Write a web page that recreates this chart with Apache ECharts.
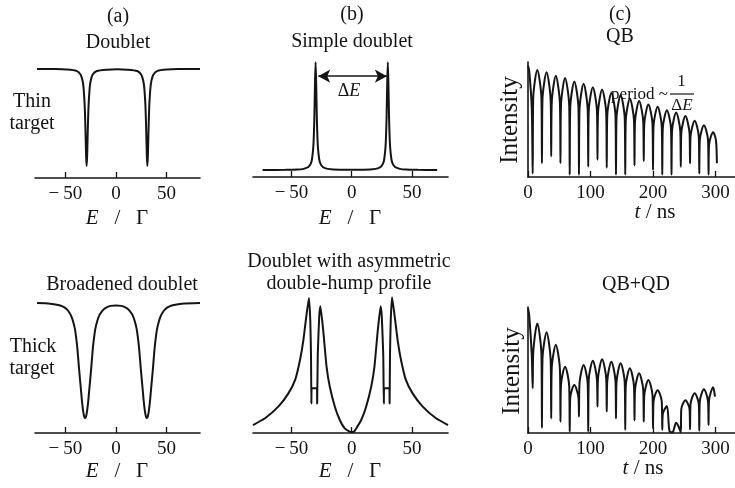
<!DOCTYPE html>
<html>
<head>
<meta charset="utf-8">
<script src="https://cdn.jsdelivr.net/npm/echarts@6.0.0/dist/echarts.min.js"></script>
<style>
  html, body { margin: 0; padding: 0; background: #fff; }
  #chart { width: 735px; height: 488px; }
</style>
</head>
<body>
<div id="chart"></div>
<script>
// (a) thin target: doublet absorption dips
const thinE = [-78, -60, -49, -39, -35, -33, -32, -31, -30.5, -30, -29.5, -29, -28.5, -28, -27.5, -27, -26, -25, -23, -19,
  -9, 1, 11, 21, 25, 27, 28, 29, 29.5, 30, 30.5, 31, 31.5, 32, 32.5, 33, 34, 35, 37, 41, 51, 61, 83];
const thinI = [77.9, 77.8, 77.5, 76.5, 73.9, 69.4, 64.1, 53, 43.3, 29.9, 15.5, 8.6, 15.5, 29.9, 43.3, 53, 64.1, 69.4, 73.9, 76.4,
  77.4, 77.6, 77.4, 76.4, 73.8, 69.3, 64, 53, 43.3, 29.9, 15.5, 8.6, 15.5, 29.9, 43.3, 53, 64.1, 69.4, 73.9, 76.5, 77.5, 77.8, 77.9];

// (a) thick target: broadened doublet
const thickE = [-78, -65, -55, -50.5, -47.5, -44.5, -42.5, -40.5, -38.5, -37.5, -36.5, -35.5, -34.5, -33.5, -32.5, -31.5, -30.5,
  -29.5, -28.5, -27.5, -26.5, -25.5, -24.5, -23.5, -22.5, -20.5, -18.5, -16.5, -13.5, -10.5, -5.5, 0, 5.5, 10.5, 13.5, 16.5,
  18.5, 20.5, 22.5, 23.5, 24.5, 25.5, 26.5, 27.5, 28.5, 29.5, 30.5, 31.5, 32.5, 33.5, 34.5, 35.5, 36.5, 37.5, 38.5, 40.5,
  42.5, 44.5, 47.5, 50.5, 55, 65, 83];
const thickI = [92.8, 92.4, 91.1, 89.5, 87.5, 84, 80, 74, 63, 55, 46, 38, 30, 22, 16, 12, 10.7,
  12, 16, 22, 30, 38, 46, 55, 63, 74, 80, 84, 87.3, 89.2, 90.8, 91, 90.8, 89.2, 87.3, 84,
  80, 74, 63, 55, 46, 38, 30, 22, 16, 12, 10.7, 12, 16, 22, 30, 38, 46, 55, 63, 74,
  80, 84, 87.5, 89.5, 91.1, 92.4, 92.9];

// (b) simple doublet emission
const simpleE = [-74, -55, -45, -40, -36, -34, -33, -32, -31.5, -31, -30.5, -30, -29.5, -29, -28.5, -28, -27, -26, -24, -20,
  -10, 0, 10, 20, 24, 26, 27, 28, 28.5, 29, 29.5, 30, 30.5, 31, 31.5, 32, 33, 34, 36, 40, 45, 55, 71];
const simpleI = [5, 5.1, 5.3, 5.8, 7.1, 9.5, 12.7, 20.4, 28.7, 43.5, 66.6, 82, 66.6, 43.5, 28.7, 20.4, 12.7, 9.5, 7.1, 5.8,
  5.2, 5.2, 5.2, 5.8, 7.1, 9.5, 12.7, 20.4, 28.7, 43.5, 66.6, 82, 66.6, 43.5, 28.7, 20.4, 12.7, 9.5, 7.1, 5.8, 5.3, 5.1, 5];

// (b) doublet with asymmetric double-hump profile
const humpE = [-82, -72, -61, -52.6, -47, -43, -40.2, -37.4, -35.5, -34.4, -33.8, -33.5, -33.3, -28.9, -28.7, -28.2, -27, -26,
  -23.7, -20.9, -18.2, -14, -9.9, -5.8, -1.7, 0, 2, 3.8, 7.9, 12, 16.2, 18.9, 21.7, 24, 25, 26.2, 26.7, 26.9, 31.3, 31.5,
  31.8, 32.4, 33.5, 35.4, 38.2, 41, 45, 50.6, 59, 70, 80];
const humpI = [5.7, 10.5, 18.8, 28.3, 37.9, 52, 66, 85.5, 96.5, 80, 55, 21, 32, 32, 21, 56, 83, 90.5,
  73.6, 47.4, 33, 18.8, 9.3, 3.3, 1, 0.7, 1, 3.3, 9.3, 18.8, 33, 47.4, 73.6, 90.5, 83, 56, 21, 32, 32, 21,
  55, 80, 97, 85.5, 66, 52, 37.9, 28.3, 18.8, 10.5, 5.7];

// (c) QB time spectrum
const qbT = [0, 2, 6, 7.5, 8.3, 14.9, 21.5, 22.3, 23.1, 29.7, 36.3, 37.1, 37.9, 44.5, 51.1, 51.9, 52.7, 59.3, 65.9,
  66.7, 67.5, 74.1, 80.7, 81.5, 82.3, 88.9, 95.5, 96.3, 97.1, 103.7, 110.3, 111.1, 111.9, 118.5, 125.1, 125.9, 126.7,
  133.3, 139.9, 140.7, 141.5, 148.1, 154.7, 155.5, 156.3, 162.9, 169.5, 170.3, 171.1, 177.7, 184.3, 185.1, 185.9,
  192.5, 199.1, 199.9, 200.7, 207.3, 213.9, 214.7, 215.5, 222.1, 228.7, 229.5, 230.3, 236.9, 243.5, 244.3, 245.1,
  251.7, 258.3, 259.1, 259.9, 266.5, 273.1, 273.9, 274.7, 281.3, 287.9, 288.7, 289.5, 296.1, 300.5, 302];
const qbI = [97, 92, 60, 3, 68, 93, 68, 12, 67, 91, 66, 18, 64, 88, 63, 12, 62, 86, 62,
  2, 60, 83, 60, 2, 58, 81, 58, 9, 57, 78, 57, 15, 55, 76, 55, 8, 53,
  73, 53, 2, 51, 71, 51, 2, 49, 68, 49, 10, 48, 66, 48, 14, 46,
  63, 46, 6, 44, 61, 44, 2, 42, 58, 42, 2, 40, 56, 40, 9, 38,
  53, 38, 12, 35, 49, 35, 3, 32, 45, 32, 2, 28, 39, 32, 12];

// (c) QB+QD time spectrum
const qdT = [0, 2, 6, 7.5, 8.3, 14.9, 21.5, 22.3, 23.1, 29.7, 36.3, 37.1, 37.9, 44.5, 51.1, 51.9, 52.7, 59.3, 65.9,
  66.7, 67.5, 74.1, 80.7, 81.5, 82.3, 88.9, 95.5, 96.3, 97.1, 103.7, 110.3, 111.1, 111.9, 118.5, 125.1, 125.9, 126.7,
  133.3, 139.9, 140.7, 141.5, 148.1, 154.7, 155.5, 156.3, 162.9, 169.5, 170.3, 171.1, 177.7, 184.3, 185.1, 185.9,
  192.5, 199.1, 199.9, 200.7, 207.3, 213.9, 214.7, 215.5, 222.1, 226, 229.5, 232, 236.9, 241, 244.3, 245.1,
  251.7, 258.3, 259.1, 259.9, 266.5, 273.1, 273.9, 274.7, 281.3, 287.9, 288.7, 289.5, 296.1, 299];
const qdI = [99, 93, 62, 35.5, 63, 87, 62, 4, 58, 80, 57, 11.6, 51, 70, 50, 9, 38, 52.6, 37,
  1, 28, 38, 28, 13, 39, 54, 39, 1, 42, 57.4, 42, 21, 43, 58.5, 43, 17, 41,
  56.6, 41, 11.6, 40, 55.3, 40, 2.4, 37, 51.3, 37, 10, 34, 47.4, 34, 9, 30,
  42, 30, 3.7, 25, 34, 25, 2.6, 15, 21.4, 2, 0.5, 1, 8.2, 5, 0.5, 19,
  26, 19, 3, 23, 31.5, 23, 1.8, 25, 34.7, 25, 6.3, 26, 36.3, 28.8];

const energyTicks = [-50, 0, 50];
const timeTicks = [0, 100, 200, 300];

const FONT = '"Liberation Serif", "DejaVu Serif", serif';
const INK = '#141414';

function pairs(xs, ys) {
  return xs.map((x, i) => [x, ys[i]]);
}

function grid(left, top, width, height) {
  return { left: left, top: top, width: width, height: height, outerBoundsMode: 'none' };
}

function xAxis(gi, min, max, ticks) {
  return {
    gridIndex: gi, type: 'value', min: min, max: max,
    splitLine: { show: false },
    axisLine: { show: true, onZero: false, lineStyle: { color: INK, width: 1.6 } },
    axisTick: { show: true, inside: true, length: 6, customValues: ticks, lineStyle: { color: INK, width: 1.3 } },
    axisLabel: {
      show: true, margin: 7, customValues: ticks, color: INK, fontFamily: FONT, fontSize: 19,
      formatter: v => (v < 0 ? '\u2212\u2009' + Math.abs(v) : String(v))
    }
  };
}

function yAxis(gi, showLine) {
  return {
    gridIndex: gi, type: 'value', min: 0, max: 100,
    splitLine: { show: false }, axisTick: { show: false }, axisLabel: { show: false },
    axisLine: { show: showLine, onZero: false, lineStyle: { color: INK, width: 1.6 } }
  };
}

function curve(gi, data, extra) {
  return Object.assign({
    type: 'line', xAxisIndex: gi, yAxisIndex: gi, data: data,
    symbol: 'none', smooth: 0.25, silent: true,
    lineStyle: { color: INK, width: 2 }
  }, extra || {});
}

function txt(x, y, text, size, extra) {
  return {
    type: 'text', x: x, y: y, silent: true,
    style: Object.assign({
      text: text, fill: INK, font: size + 'px ' + FONT,
      fontSize: size, fontFamily: FONT,
      textAlign: 'center', textVerticalAlign: 'middle', align: 'center', verticalAlign: 'middle'
    }, extra || {})
  };
}

const italicRich = size => ({
  i: { fontStyle: 'italic', fontSize: size, fontFamily: FONT, fill: INK, color: INK },
  n: { fontSize: size, fontFamily: FONT, fill: INK, color: INK }
});

const chart = echarts.init(document.getElementById('chart'));

chart.setOption({
  animation: false,
  backgroundColor: '#fff',
  grid: [
    grid(35, 38, 165, 140),     // a top
    grid(253, 37, 195, 140),    // b top
    grid(528, 62, 207, 115),    // c top
    grid(35, 293, 165, 140),    // a bottom
    grid(253, 293, 195, 140),   // b bottom
    grid(528, 307, 207, 126)    // c bottom
  ],
  xAxis: [
    xAxis(0, -80, 83, energyTicks),
    xAxis(1, -82, 80, energyTicks),
    xAxis(2, 0, 331, timeTicks),
    xAxis(3, -80, 83, energyTicks),
    xAxis(4, -82, 80, energyTicks),
    xAxis(5, 0, 331, timeTicks)
  ],
  yAxis: [
    yAxis(0, false), yAxis(1, false), yAxis(2, true),
    yAxis(3, false), yAxis(4, false), yAxis(5, true)
  ],
  series: [
    curve(0, pairs(thinE, thinI)),
    curve(1, pairs(simpleE, simpleI), {
      markLine: {
        silent: true, symbol: ['arrow', 'arrow'], symbolSize: [10, 12],
        lineStyle: { color: INK, width: 1.6, type: 'solid' },
        label: { show: false },
        data: [[{ coord: [-27.8, 72] }, { coord: [29.2, 72] }]]
      }
    }),
    curve(2, pairs(qbT, qbI), { smooth: 0.3 }),
    curve(3, pairs(thickE, thickI)),
    curve(4, pairs(humpE, humpI), { smooth: 0.15 }),
    curve(5, pairs(qdT, qdI), { smooth: 0.3 })
  ],
  graphic: [
    // panel letters and titles
    txt(118, 17, '(a)', 20),
    txt(352, 15, '(b)', 20),
    txt(620, 15, '(c)', 20),
    txt(118, 43, 'Doublet', 20),
    txt(352, 42, 'Simple doublet', 20),
    txt(620, 37, 'QB', 20),
    txt(122, 285, 'Broadened doublet', 20),
    txt(349, 262, 'Doublet with asymmetric', 20),
    txt(349, 284, 'double-hump profile', 20),
    txt(636, 285, 'QB+QD', 20),
    // row labels
    txt(32, 102, 'Thin', 20),
    txt(32, 124, 'target', 20),
    txt(33, 347, 'Thick', 20),
    txt(32, 369, 'target', 20),
    // axis titles
    txt(117, 218, '{i|E}{n|   /   \u0393}', 21, { rich: italicRich(21) }),
    txt(350, 218, '{i|E}{n|   /   \u0393}', 21, { rich: italicRich(21) }),
    txt(117, 471, '{i|E}{n|   /   \u0393}', 21, { rich: italicRich(21) }),
    txt(350, 471, '{i|E}{n|   /   \u0393}', 21, { rich: italicRich(21) }),
    txt(655, 212, '{i|t}{n| / ns}', 21, { rich: italicRich(21) }),
    txt(643, 468, '{i|t}{n| / ns}', 21, { rich: italicRich(21) }),
    // intensity labels
    Object.assign(txt(0, 0, 'Intensity', 25), { x: 510, y: 120, rotation: Math.PI / 2 }),
    Object.assign(txt(0, 0, 'Intensity', 25), { x: 512, y: 371, rotation: Math.PI / 2 }),
    // delta E in (b)
    txt(349, 91, '{n|\u0394}{i|E}', 18, { rich: italicRich(18) }),
    // period ~ 1/ΔE
    txt(668, 95, 'period ~', 17, { textAlign: 'right', align: 'right' }),
    txt(681.5, 82, '1', 17),
    {
      type: 'line', silent: true,
      shape: { x1: 670, y1: 94, x2: 694, y2: 94 },
      style: { stroke: INK, lineWidth: 1.2 }
    },
    txt(682, 106, '{n|\u0394}{i|E}', 17, { rich: italicRich(17) })
  ]
});
</script>
</body>
</html>
